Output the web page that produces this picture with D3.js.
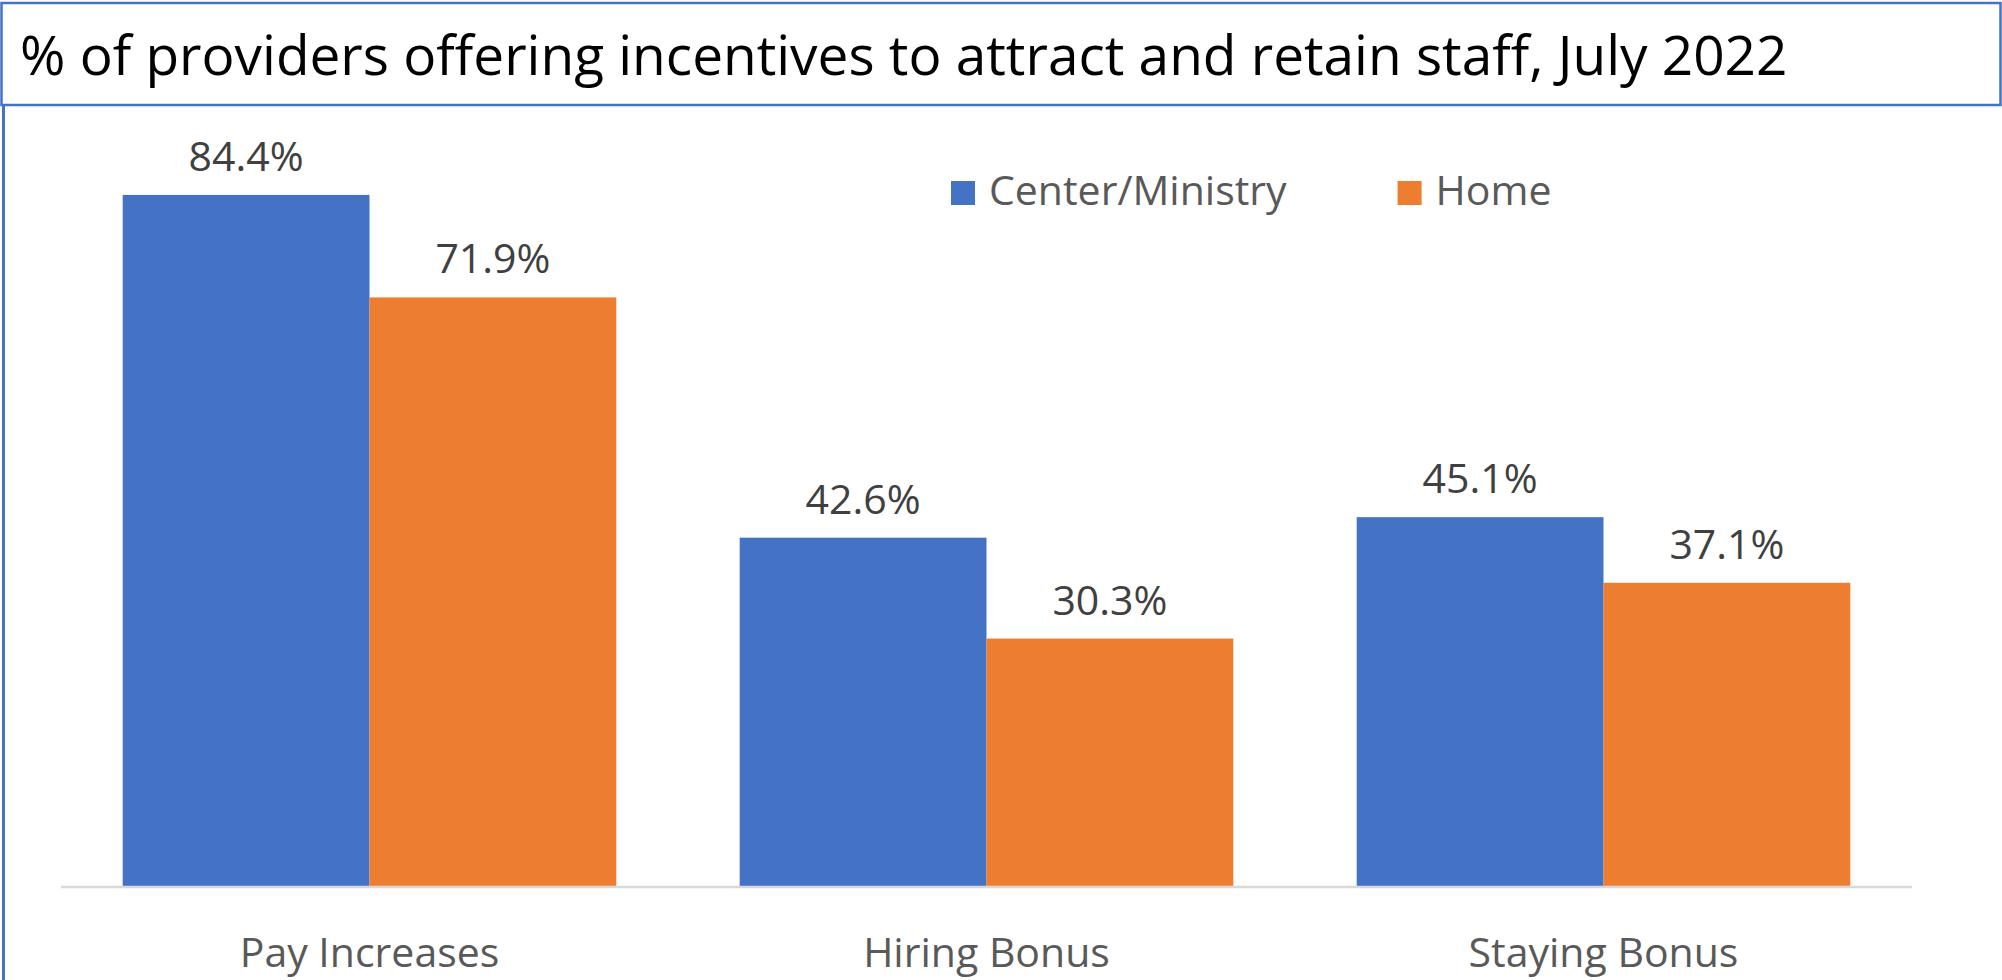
<!DOCTYPE html>
<html>
<head>
<meta charset="utf-8">
<script src="https://cdn.jsdelivr.net/npm/d3@7"></script>
<style>
  body { margin: 0; background: #fff; }
  svg { display: block; }
</style>
</head>
<body>
<svg id="chart" width="2002" height="980"></svg>
<script>
const titleText = "% of providers offering incentives to attract and retain staff, July 2022";
const categories = ["Pay Increases", "Hiring Bonus", "Staying Bonus"];
const seriesNames = ["Center/Ministry", "Home"];
const centerValues = [84.4, 42.6, 45.1];
const homeValues = [71.9, 30.3, 37.1];
const seriesColors = ["#4472C4", "#ED7D31"];

class GroupedBarChart {
  constructor(svg) {
    this.svg = svg;
    this.font = "'Open Sans', 'DejaVu Sans', sans-serif";
    this.baseY = 887;
    this.rows = categories.map((c, i) => ({
      category: c,
      values: [centerValues[i], homeValues[i]]
    }));
  }

  initialize() {
    this.x = d3.scaleBand()
      .domain(categories)
      .range([61, 1912])
      .paddingInner(0.2)
      .paddingOuter(0.1);
    this.xInner = d3.scaleBand()
      .domain(seriesNames)
      .range([0, this.x.bandwidth()]);
    // 0..90 spans the plot height
    this.y = d3.scaleLinear()
      .domain([0, 90])
      .range([this.baseY, this.baseY - 90 * 8.2]);
    this.color = d3.scaleOrdinal().domain(seriesNames).range(seriesColors);
  }

  drawFrame() {
    // title box
    this.svg.append("rect")
      .attr("x", 1.5).attr("y", 3)
      .attr("width", 1999).attr("height", 102)
      .attr("fill", "none")
      .attr("stroke", "#4472C4")
      .attr("stroke-width", 2.5);
    // left edge of the chart frame
    this.svg.append("line")
      .attr("x1", 3.5).attr("x2", 3.5)
      .attr("y1", 106).attr("y2", 980)
      .attr("stroke", "#4472C4")
      .attr("stroke-width", 3);

    const title = this.svg.append("text")
      .attr("x", 20).attr("y", 75)
      .style("font-family", this.font)
      .style("font-size", "60px")
      .style("fill", "#000")
      .text(titleText);
    // fit title to the width it has in the original
    const w = title.node().getComputedTextLength();
    title.style("font-size", (60 * 1768 / w) + "px");
  }

  drawBars() {
    const groups = this.svg.selectAll(".group")
      .data(this.rows)
      .enter()
      .append("g")
      .attr("class", "group")
      .attr("transform", d => "translate(" + this.x(d.category) + ",0)");

    const cells = d => d.values.map((v, i) => ({ name: seriesNames[i], value: v }));

    groups.selectAll("rect")
      .data(cells)
      .enter()
      .append("rect")
      .attr("x", d => this.xInner(d.name))
      .attr("y", d => this.y(d.value))
      .attr("width", this.xInner.bandwidth())
      .attr("height", d => this.y(0) - this.y(d.value))
      .attr("fill", d => this.color(d.name));

    groups.selectAll(".label")
      .data(cells)
      .enter()
      .append("text")
      .attr("class", "label")
      .attr("x", d => this.xInner(d.name) + this.xInner.bandwidth() / 2)
      .attr("y", d => this.y(d.value) - 24)
      .attr("text-anchor", "middle")
      .style("font-family", this.font)
      .style("font-size", "41px")
      .style("fill", "#404040")
      .text(d => d.value.toFixed(1) + "%");
  }

  drawAxis() {
    const axis = this.svg.append("g")
      .attr("transform", "translate(0," + this.baseY + ")")
      .call(d3.axisBottom(this.x).tickSize(0).tickPadding(0).tickSizeOuter(0));
    axis.select(".domain")
      .attr("d", "M61,0H1912")
      .attr("stroke", "#D9D9D9")
      .attr("stroke-width", 2.5);
    axis.selectAll(".tick text")
      .attr("y", 80)
      .attr("dy", null)
      .style("font-family", this.font)
      .style("font-size", "41px")
      .style("fill", "#595959");
  }

  drawLegend() {
    let xPos = 951;
    seriesNames.forEach((name) => {
      const g = this.svg.append("g").attr("transform", "translate(" + xPos + ",181)");
      g.append("rect")
        .attr("width", 24).attr("height", 24)
        .attr("fill", this.color(name));
      const t = g.append("text")
        .attr("x", 38).attr("y", 24)
        .style("font-family", this.font)
        .style("font-size", "41px")
        .style("fill", "#595959")
        .text(name);
      xPos += 38 + t.node().getComputedTextLength() + 111;
    });
  }

  plot() {
    this.initialize();
    this.drawFrame();
    this.drawBars();
    this.drawAxis();
    this.drawLegend();
  }
}

const chart = new GroupedBarChart(d3.select("#chart"));
chart.plot();
</script>
</body>
</html>
